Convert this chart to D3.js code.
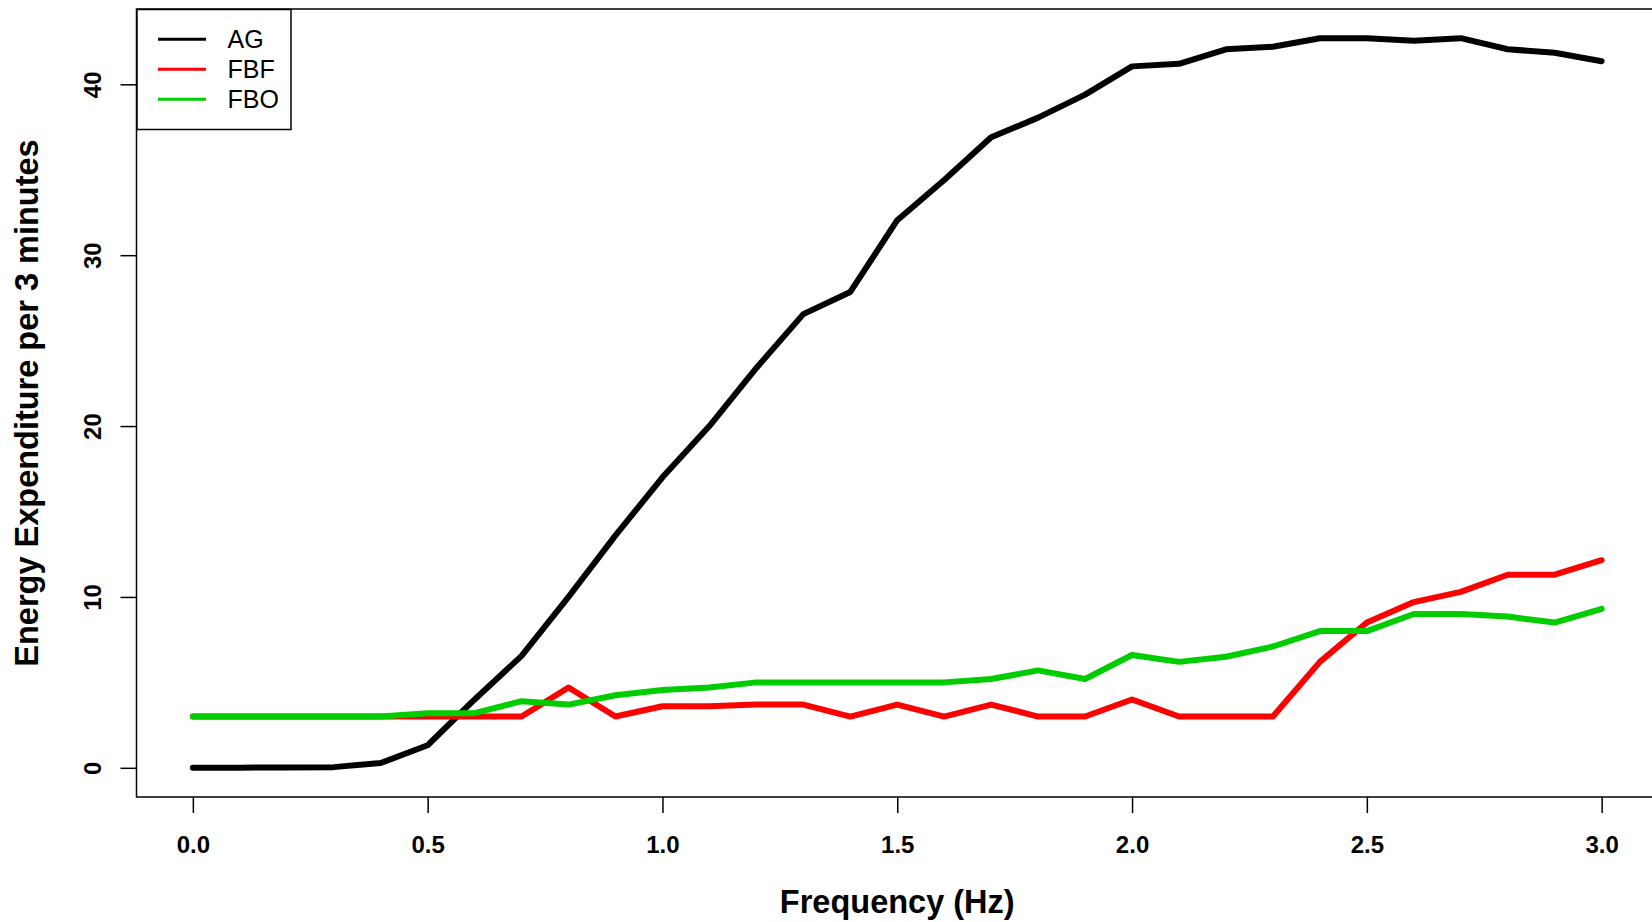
<!DOCTYPE html>
<html><head><meta charset="utf-8">
<script src="https://cdn.jsdelivr.net/npm/d3@7"></script>
<style>html,body{margin:0;padding:0;background:#fff;} svg{display:block;}</style>
</head><body><svg id="c" width="1652" height="922"></svg>
<script>
// ---- data ----
const freq = [0.0,0.1,0.2,0.3,0.4,0.5,0.6,0.7,0.8,0.9,1.0,1.1,1.2,1.3,1.4,1.5,1.6,1.7,1.8,1.9,2.0,2.1,2.2,2.3,2.4,2.5,2.6,2.7,2.8,2.9,3.0];
const AG  = [0,0.01,0.02,0.04,0.28,1.32,4.0,6.55,10.0,13.6,17.0,20.0,23.4,26.55,27.85,32.05,34.4,36.9,38.05,39.4,41.05,41.2,42.05,42.2,42.7,42.7,42.55,42.7,42.05,41.85,41.35];
const FBF = [3,3,3,3,3,3,3,3,4.7,3.0,3.6,3.6,3.7,3.7,3.0,3.7,3.0,3.7,3.0,3.0,4.0,3.0,3.0,3.0,6.2,8.5,9.7,10.3,11.3,11.3,12.15];
const FBO = [3,3,3,3,3,3.2,3.2,3.9,3.7,4.25,4.55,4.7,5.0,5.0,5.0,5.0,5.0,5.2,5.7,5.2,6.6,6.2,6.5,7.1,8.0,8.0,9.0,9.0,8.85,8.5,9.3];
const seriesNames = ["AG","FBF","FBO"];
const seriesColors = ["#000000","#FF0000","#00CD00"];
const xTicks = [0,0.5,1.0,1.5,2.0,2.5,3.0];
const yTicks = [0,10,20,30,40];
const xLabel = "Frequency (Hz)";
const yLabel = "Energy Expenditure per 3 minutes";

// ---- layout ----
const FONT = "'Liberation Sans', Arial, Helvetica, sans-serif";
const svg = d3.select("#c");
svg.append("rect").attr("width",1652).attr("height",922).attr("fill","#fff");
const plot = {left:136.5, right:1658, top:9, bottom:797};

const xMin = d3.min(freq), xMax = d3.max(freq), xPad = (xMax-xMin)*0.04;
const x = d3.scaleLinear().domain([xMin-xPad, xMax+xPad]).range([plot.left, plot.right]);
const allY = AG.concat(FBF, FBO);
const yMin = d3.min(allY), yMax = d3.max(allY), yPad = (yMax-yMin)*0.04;
const y = d3.scaleLinear().domain([yMin-yPad, yMax+yPad]).range([plot.bottom, plot.top]);

// series lines (drawn in order AG, FBF, FBO)
const series = [AG, FBF, FBO];
const line = d3.line().x((d,i)=>x(freq[i])).y(d=>y(d));
series.forEach((s,k)=>{
  svg.append("path").datum(s).attr("d", line)
    .attr("fill","none").attr("stroke", seriesColors[k])
    .attr("stroke-width",6).attr("stroke-linecap","round").attr("stroke-linejoin","round");
});

// box
svg.append("rect").attr("x",plot.left).attr("y",plot.top)
  .attr("width",plot.right-plot.left).attr("height",plot.bottom-plot.top)
  .attr("fill","none").attr("stroke","#000").attr("stroke-width",1.5);

// x axis
const gx = svg.append("g").attr("transform",`translate(0,${plot.bottom})`)
  .call(d3.axisBottom(x).tickValues(xTicks).tickSize(16).tickFormat(d3.format(".1f")));
gx.select(".domain").remove();
gx.selectAll(".tick line").attr("stroke","#000").attr("stroke-width",1.5);
gx.selectAll(".tick text").attr("y",55.5).attr("dy",0)
  .attr("font-family",FONT).attr("font-size",24).attr("font-weight","bold").attr("fill","#000");

// y axis
const gy = svg.append("g").attr("transform",`translate(${plot.left},0)`)
  .call(d3.axisLeft(y).tickValues(yTicks).tickSize(16).tickFormat(d3.format("d")));
gy.select(".domain").remove();
gy.selectAll(".tick line").attr("stroke","#000").attr("stroke-width",1.5);
gy.selectAll(".tick text").attr("x",0).attr("y",-36).attr("dy",0)
  .attr("transform","rotate(-90)").attr("text-anchor","middle")
  .attr("font-family",FONT).attr("font-size",24).attr("font-weight","bold").attr("fill","#000");

// axis titles
svg.append("text").attr("x",(plot.left+plot.right)/2).attr("y",913)
  .attr("text-anchor","middle").attr("font-family",FONT).attr("font-size",32.5)
  .attr("font-weight","bold").attr("fill","#000").text(xLabel);
const yc = (plot.top+plot.bottom)/2;
svg.append("text").attr("transform",`translate(37.5,${yc}) rotate(-90)`)
  .attr("text-anchor","middle").attr("font-family",FONT).attr("font-size",32.5)
  .attr("font-weight","bold").attr("fill","#000").text(yLabel);

// legend
const lg = svg.append("g");
lg.append("rect").attr("x",137).attr("y",9.5).attr("width",154).attr("height",120)
  .attr("fill","#fff").attr("stroke","#000").attr("stroke-width",1.5);
seriesNames.forEach((n,k)=>{
  const cy = 39.3 + k*30;
  lg.append("line").attr("x1",158).attr("x2",206).attr("y1",cy).attr("y2",cy)
    .attr("stroke",seriesColors[k]).attr("stroke-width",3);
  lg.append("text").attr("x",227.5).attr("y",cy+8.7)
    .attr("font-family",FONT).attr("font-size",25).attr("fill","#000").text(n);
});
</script></body></html>
